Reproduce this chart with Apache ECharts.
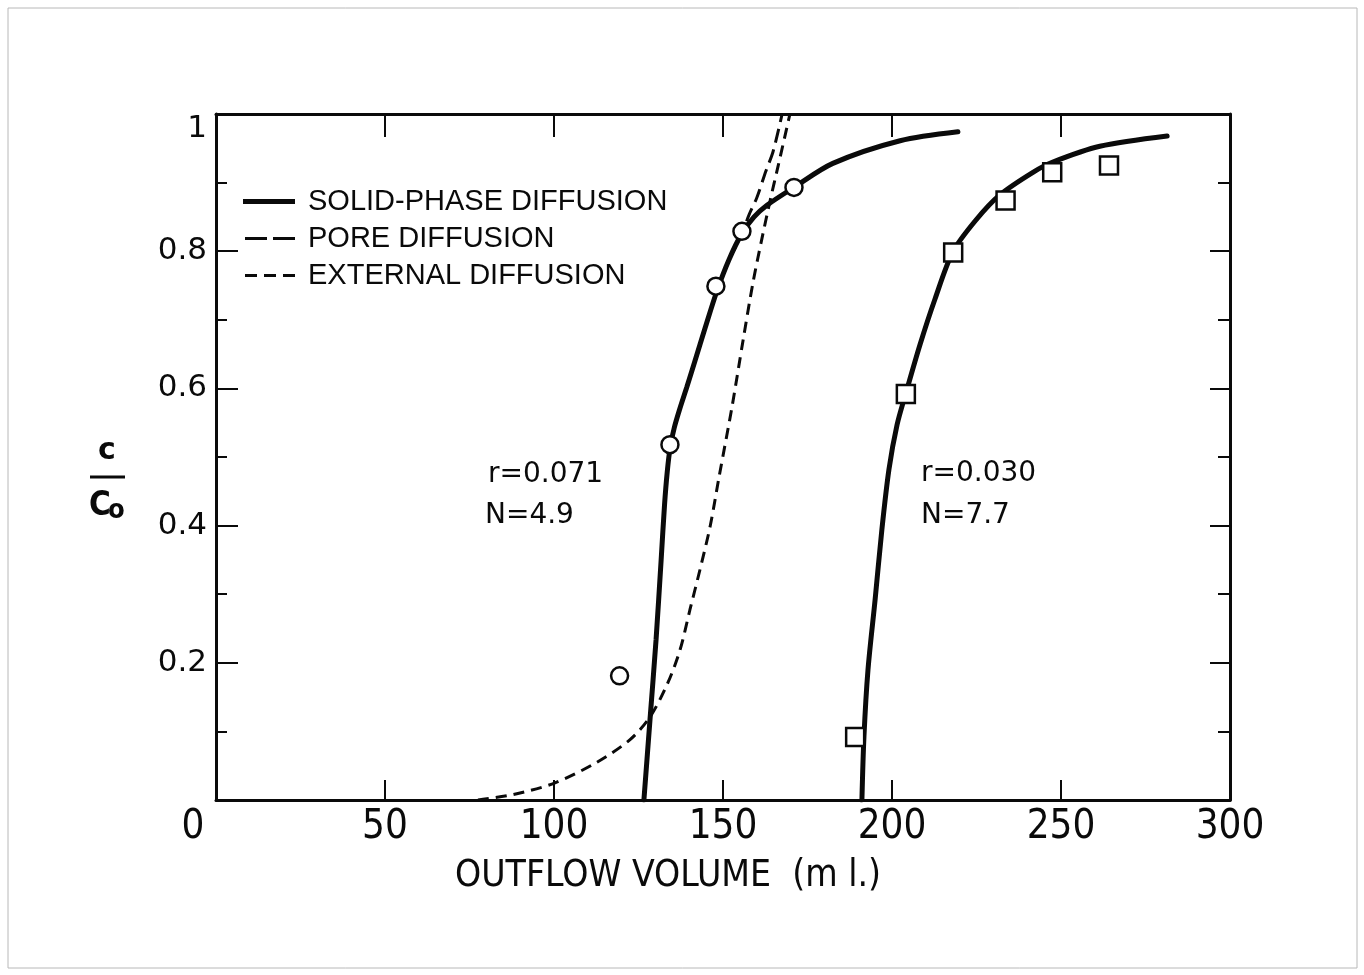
<!DOCTYPE html>
<html>
<head>
<meta charset="utf-8">
<script src="https://cdn.jsdelivr.net/npm/echarts@6/dist/echarts.min.js"></script>
<style>html,body{margin:0;padding:0;background:#fff}#c{width:1364px;height:975px}</style>
</head>
<body>
<div id="c"></div>
<script>
// ---- data ----
const xTicks = [0, 50, 100, 150, 200, 250, 300];
const yTicks = [0.2, 0.4, 0.6, 0.8, 1];

// measured points (circles: r=0.071, N=4.9 ; squares: r=0.030, N=7.7)
const circleX = [119.4, 134.3, 147.9, 155.6, 171.0];
const circleY = [0.181, 0.518, 0.749, 0.829, 0.893];
const squareX = [189.1, 204.1, 218.1, 233.6, 247.4, 264.2];
const squareY = [0.092, 0.592, 0.798, 0.874, 0.915, 0.925];

// solid-phase diffusion model curves
const solid1X = [126.6,128.4,130.2,131.7,132.7,133.5,134.4,135.6,137.2,139.3,141.7,144.7,148.2,151.8,155.6,159.2,163.0,171.0,182.5,202.4,219.5];
const solid1Y = [0.000,0.117,0.234,0.350,0.430,0.478,0.515,0.543,0.570,0.602,0.640,0.688,0.742,0.788,0.826,0.850,0.867,0.893,0.928,0.961,0.974];
const solid2X = [191.1,191.7,192.9,195.0,197.0,199.1,201.5,204.1,208.3,212.7,218.0,224.6,231.9,241.7,247.6,261.5,281.4];
const solid2Y = [0.000,0.092,0.190,0.292,0.394,0.482,0.547,0.593,0.664,0.730,0.799,0.844,0.882,0.915,0.930,0.953,0.968];

// pore diffusion curve (visible branch above solid curve)
const poreX = [151.8,155.6,157.7,160.0,162.7,164.8,167.5];
const poreY = [0.788,0.826,0.853,0.878,0.917,0.945,1.000];

// external diffusion curve
const extX = [77.5,88.0,100.3,112.7,122.5,128.4,133.7,137.3,140.2,143.2,146.2,148.8,152.7,156.0,158.9,161.5,164.0,166.3,169.8];
const extY = [0.000,0.008,0.025,0.055,0.088,0.121,0.171,0.219,0.277,0.336,0.399,0.470,0.574,0.672,0.755,0.818,0.875,0.924,1.000];

const zip = (xs, ys) => xs.map((x, i) => [x, ys[i]]);

const SOLID = 'SOLID-PHASE DIFFUSION', PORE = 'PORE DIFFUSION', EXT = 'EXTERNAL DIFFUSION';
const NARROW = '"Liberation Sans Narrow","DejaVu Sans Condensed","Roboto Condensed","Liberation Sans",sans-serif';
const WIDE = '"DejaVu Sans","Liberation Sans",sans-serif';
const INK = '#0a0a0a';

const ICON_SOLID = 'path://M0,0.5H52V5.5H0Z';
const ICON_PORE = 'path://M2,1.5H24V4.5H2Z M30,1.5H52V4.5H30Z M0,0H0.01V0.01H0Z M52,6H51.99V5.99H52Z';
const ICON_EXT = 'path://M2,1.5H14V4.5H2Z M21,1.5H33V4.5H21Z M40,1.5H52V4.5H40Z M0,0H0.01V0.01H0Z M52,6H51.99V5.99H52Z';

const chart = echarts.init(document.getElementById('c'), null, {renderer: 'canvas'});

const axisLine = {show: true, onZero: false, lineStyle: {color: INK, width: 3}};
const lineCommon = {type: 'line', smooth: 0.3, showSymbol: false, symbol: 'none'};

chart.setOption({
  backgroundColor: '#fff',
  animation: false,
  grid: {left: 216, right: 134, top: 114, bottom: 175, containLabel: false},
  xAxis: [
    {
      type: 'value', min: 0, max: 300, interval: 50, position: 'bottom',
      axisLine: axisLine,
      axisTick: {inside: true, length: 20, lineStyle: {color: INK, width: 2}},
      splitLine: {show: false},
      axisLabel: {
        margin: 8, color: INK, fontFamily: NARROW, fontSize: 40,
        formatter: v => v === 0 ? '{z|0}' : String(v),
        rich: {z: {fontFamily: NARROW, fontSize: 40, color: INK, padding: [0, 46, 0, 0]}}
      },
      name: 'OUTFLOW VOLUME  (m l.)', nameLocation: 'middle', nameGap: 58,
      nameTextStyle: {fontFamily: NARROW, fontSize: 37, color: INK, padding: [0, 110, 0, 0]}
    },
    {
      type: 'value', min: 0, max: 300, interval: 50, position: 'top',
      axisLine: axisLine,
      axisTick: {inside: true, length: 23, lineStyle: {color: INK, width: 2}},
      axisLabel: {show: false}, splitLine: {show: false}
    }
  ],
  yAxis: [
    {
      type: 'value', min: 0, max: 1, interval: 0.2, position: 'left',
      axisLine: axisLine,
      axisTick: {inside: true, length: 22, lineStyle: {color: INK, width: 2}},
      minorTick: {show: true, splitNumber: 2, length: 11, lineStyle: {color: INK, width: 2}},
      splitLine: {show: false}, minorSplitLine: {show: false},
      axisLabel: {
        margin: 9, color: INK, fontFamily: WIDE, fontSize: 31,
        formatter: v => (v === 0 ? '' : (Math.abs(v - 1) < 1e-9 ? '{one|1}' : v.toFixed(1))),
        rich: {one: {fontFamily: WIDE, fontSize: 31, color: INK, padding: [30, 0, 0, 0]}}
      }
    },
    {
      type: 'value', min: 0, max: 1, interval: 0.2, position: 'right',
      axisLine: axisLine,
      axisTick: {inside: true, length: 20, lineStyle: {color: INK, width: 2}},
      minorTick: {show: true, splitNumber: 2, length: 12, lineStyle: {color: INK, width: 2}},
      splitLine: {show: false}, minorSplitLine: {show: false},
      axisLabel: {show: false}
    }
  ],
  legend: {
    orient: 'vertical', left: 238, top: 182, itemWidth: 52, itemHeight: 6, itemGap: 8,
    selectedMode: false,
    itemStyle: {color: INK, borderWidth: 0},
    lineStyle: {width: 0},
    textStyle: {fontFamily: '"Liberation Sans",sans-serif', fontSize: 29, color: INK, padding: [0, 0, 0, 8], lineHeight: 29},
    data: [
      {name: SOLID, icon: ICON_SOLID},
      {name: PORE, icon: ICON_PORE},
      {name: EXT, icon: ICON_EXT}
    ]
  },
  series: [
    Object.assign({name: SOLID, data: zip(solid1X, solid1Y), lineStyle: {color: INK, width: 5, cap: 'round'}, itemStyle: {color: INK}, z: 3}, lineCommon),
    Object.assign({name: SOLID, data: zip(solid2X, solid2Y), lineStyle: {color: INK, width: 5, cap: 'round'}, itemStyle: {color: INK}, z: 3}, lineCommon),
    Object.assign({name: PORE, data: zip(poreX, poreY), lineStyle: {color: INK, width: 3, type: [14, 7]}, itemStyle: {color: INK}, z: 2}, lineCommon),
    Object.assign({name: EXT, data: zip(extX, extY), lineStyle: {color: INK, width: 3, type: [11, 7]}, itemStyle: {color: INK}, z: 2}, lineCommon),
    {name: 'r=0.071 data', type: 'scatter', data: zip(circleX, circleY), symbol: 'circle', symbolSize: 17,
     itemStyle: {color: '#fff', borderColor: INK, borderWidth: 2.5, opacity: 1}, z: 5},
    {name: 'r=0.030 data', type: 'scatter', data: zip(squareX, squareY), symbol: 'rect', symbolSize: 18,
     itemStyle: {color: '#fff', borderColor: INK, borderWidth: 2.5, opacity: 1}, z: 5}
  ],
  graphic: [
    {type: 'rect', silent: true, z: -1, shape: {x: 8, y: 8, width: 1349, height: 960},
     style: {fill: 'none', stroke: '#b8b8b8', lineWidth: 1}},
    // y-axis title  c / Co
    {type: 'text', x: 107, y: 466, style: {text: 'c', font: 'bold 30px "DejaVu Sans", sans-serif', fill: INK, textAlign: 'center', textVerticalAlign: 'bottom'}},
    {type: 'rect', shape: {x: 90, y: 475.5, width: 35, height: 3}, style: {fill: INK}},
    {type: 'text', x: 89, y: 523, style: {text: 'C', font: 'bold 33px "DejaVu Sans Condensed","DejaVu Sans", sans-serif', fill: INK, textAlign: 'left', textVerticalAlign: 'bottom'}},
    {type: 'text', x: 108, y: 524, style: {text: 'o', font: 'bold 27px "DejaVu Sans Condensed","DejaVu Sans", sans-serif', fill: INK, textAlign: 'left', textVerticalAlign: 'bottom'}},
    // annotations
    {type: 'text', left: 488, top: 461, style: {text: 'r=0.071', font: '28px "DejaVu Sans", sans-serif', fill: INK}},
    {type: 'text', left: 485, top: 502, style: {text: 'N=4.9', font: '28px "DejaVu Sans", sans-serif', fill: INK}},
    {type: 'text', left: 921, top: 460, style: {text: 'r=0.030', font: '28px "DejaVu Sans", sans-serif', fill: INK}},
    {type: 'text', left: 921, top: 502, style: {text: 'N=7.7', font: '28px "DejaVu Sans", sans-serif', fill: INK}}
  ]
});
</script>
</body>
</html>
